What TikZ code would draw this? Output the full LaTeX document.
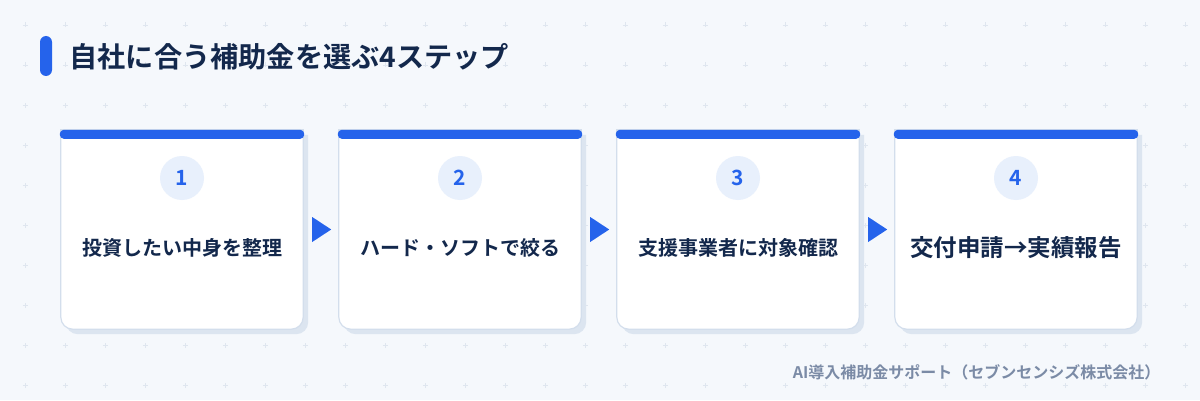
\documentclass[tikz,border=0pt]{standalone}
\usepackage{fontspec}
\setmainfont{Noto Sans CJK JP}[BoldFont={Noto Sans CJK JP Bold}]
\usetikzlibrary{positioning}
\definecolor{accent}{HTML}{2563EB}
\definecolor{navy}{HTML}{13284C}
\definecolor{pagebg}{HTML}{F5F8FC}
\definecolor{gridmark}{HTML}{DFE6EF}
\definecolor{cardline}{HTML}{D3DEEC}
\definecolor{cardshadow}{HTML}{DCE5F0}
\definecolor{badgefill}{HTML}{E8F0FC}
\definecolor{footgray}{HTML}{7B8BA6}
\begin{document}
\begin{tikzpicture}[x=1pt,y=1pt,
    card/.style ={rectangle, draw=none, inner sep=0pt, minimum width=242pt, minimum height=199pt},
    badge/.style ={circle, fill=badgefill, inner sep=0pt, minimum size=44pt,
                   text=accent, font=\fontsize{21}{25}\selectfont\bfseries},
    steptext/.style ={text=navy, font=\fontsize{20}{24}\selectfont\bfseries},
    cardbody/.style ={fill=white, draw=cardline, line width=1.2pt}]
   % page and faint grid
   \fill[pagebg] (0,0) rectangle (1200,400);
   \useasboundingbox (0,0) rectangle (1200,400);
   \foreach \x in {25,65,...,1185}
     \foreach \y in {15,55,...,375}
       \draw[gridmark, line width=0.8pt] (\x-2.5,\y) -- (\x+2.5,\y) (\x,\y-2.5) -- (\x,\y+2.5);
   % title
   \fill[accent, rounded corners=6pt] (40,324) rectangle (52,364);
   \node[anchor=west, text=navy, font=\fontsize{28.2}{34}\selectfont\bfseries] (title) at (66,343) {自社に合う補助金を選ぶ4ステップ};
   % cards
   \node[card] (step1) at (182,170.5) {};
   \node[card] (step2) at (460,170.5) {};
   \node[card] (step3) at (738,170.5) {};
   \node[card] (step4) at (1016,170.5) {};
   \foreach \s in {step1,step2,step3,step4} {
     \fill[cardshadow] ([shift={(5,-5)}]\s.north west) -- ([shift={(5,-5)}]\s.north east)
        -- ([shift={(5,7)}]\s.south east) arc[start angle=0, end angle=-90, radius=12pt]
        -- ([shift={(17,-5)}]\s.south west) arc[start angle=270, end angle=180, radius=12pt] -- cycle;
     \draw[cardbody] (\s.north west) -- (\s.north east)
        -- ([yshift=12]\s.south east) arc[start angle=0, end angle=-90, radius=12pt]
        -- ([xshift=12]\s.south west) arc[start angle=270, end angle=180, radius=12pt] -- cycle;
     \fill[accent, rounded corners=4pt] ([shift={(-1,-9)}]\s.north west) rectangle ([shift={(1,0)}]\s.north east);
   }
   % badges
   \node[badge] (num1) at (182,222) {1};
   \node[badge] (num2) at (460,222) {2};
   \node[badge] (num3) at (738,222) {3};
   \node[badge] (num4) at (1016,222) {4};
   % step texts
   \node[steptext] (txt1) at (182,152) {投資したい中身を整理};
   \node[steptext] (txt2) at (460,152) {ハード・ソフトで絞る};
   \node[steptext] (txt3) at (738,152) {支援事業者に対象確認};
   \node[steptext, font=\fontsize{23.5}{28}\selectfont\bfseries] (txt4) at (1016,152) {交付申請→実績報告};
   % arrows between cards
   \foreach \a in {step1,step2,step3}
     \fill[accent] ([shift={(9,12.5)}]\a.east) -- ([shift={(28,0)}]\a.east) -- ([shift={(9,-12.5)}]\a.east) -- cycle;
   % footer
   \node[anchor=east, text=footgray, font=\fontsize{16}{19}\selectfont\bfseries] (footer) at (1164,28) {AI導入補助金サポート（セブンセンシズ株式会社）};
\end{tikzpicture}
\end{document}
